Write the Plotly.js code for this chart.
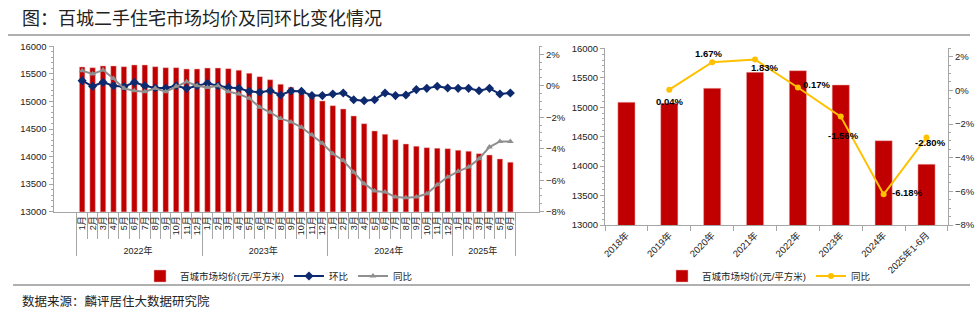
<!DOCTYPE html>
<html>
<head>
<meta charset="utf-8">
<script src="https://cdn.plot.ly/plotly-3.0.1.min.js"></script>
<style>html,body{margin:0;padding:0;background:#fff;}#chart{width:979px;height:321px;}</style>
</head>
<body>
<div id="chart"></div>
<script>
// ---------- data ----------
const yearGroups = ['2022年', '2023年', '2024年', '2025年'];
const monthsPerYear = [12, 12, 12, 6];
const monthNames = ['1月','2月','3月','4月','5月','6月','7月','8月','9月','10月','11月','12月'];

const priceMonthly = [15625,15612,15643,15643,15630,15661,15661,15630,15612,15612,15588,15588,
                      15605,15605,15595,15565,15510,15449,15394,15310,15256,15207,15117,15008,
                      14923,14863,14736,14596,14464,14403,14306,14228,14186,14161,14150,14143,
                      14113,14095,14052,14028,13956,13896];
const momMonthly = [0.32,-0.04,0.21,0.00,-0.06,0.21,0.00,-0.15,-0.15,0.00,-0.17,0.00,
                    0.15,0.00,-0.11,-0.17,-0.36,-0.42,-0.32,-0.59,-0.34,-0.36,-0.63,-0.63,
                    -0.53,-0.46,-0.89,-0.95,-0.89,-0.46,-0.63,-0.59,-0.25,-0.17,-0.04,-0.15,
                    -0.17,-0.17,-0.32,-0.17,-0.53,-0.46];
const yoyMonthly = [0.95,0.74,0.99,0.46,-0.17,-0.32,-0.38,-0.17,-0.38,-0.04,0.25,0.00,
                    -0.11,0.00,-0.38,-0.53,-0.80,-1.37,-1.69,-2.09,-2.30,-2.64,-3.12,-3.65,
                    -4.32,-4.75,-5.49,-6.22,-6.69,-6.75,-7.07,-7.11,-7.07,-6.86,-6.29,-5.80,
                    -5.44,-5.17,-4.64,-3.90,-3.54,-3.54];

const annualCats = ['2018年','2019年','2020年','2021年','2022年','2023年','2024年','2025年1-6月'];
const annualPrice = [15083,15066,15321,15593,15620,15377,14431,14031];
const annualYoY = [null,0.04,1.67,1.83,0.17,-1.56,-6.18,-2.80];

// label offsets (px) of the annual YoY data labels, relative to their points
const labelShiftX = [0, 0, -4, 9, 19, 3, 24, 4];
const labelShiftY = [0, -12, 9, -8, 3, -19, 2, -5];

// ---------- build multicategory x ----------
const outerX = [], innerX = [];
yearGroups.forEach((y, i) => {
  for (let m = 0; m < monthsPerYear[i]; m++) { outerX.push(y); innerX.push(monthNames[m]); }
});
const mcX = [outerX, innerX];

const RED = '#c00000', NAVY = '#0e2a6e', GREY = '#8f8f8f', GOLD = '#ffc000', AX = '#a6a6a6';
const FONT = 'Liberation Sans, Arial, Noto Sans CJK SC, sans-serif';

const traces = [
  {type:'bar', x: mcX, y: priceMonthly, name:'百城市场均价(元/平方米)', xaxis:'x', yaxis:'y',
   marker:{color:RED, line:{color:'#f0b0b0', width:0.5}}, width:0.52, legend:'legend'},
  {type:'scatter', mode:'lines+markers', x: mcX, y: momMonthly, name:'环比', xaxis:'x', yaxis:'y2',
   line:{color:NAVY, width:2}, marker:{symbol:'diamond', size:7, color:NAVY}, legend:'legend'},
  {type:'scatter', mode:'lines+markers', x: mcX, y: yoyMonthly, name:'同比', xaxis:'x', yaxis:'y2',
   line:{color:GREY, width:2}, marker:{symbol:'triangle-up', size:6, color:GREY}, legend:'legend'},
  {type:'bar', x: annualCats, y: annualPrice, name:'百城市场均价(元/平方米)', xaxis:'x2', yaxis:'y3',
   marker:{color:RED, line:{color:'#f0b0b0', width:0.5}}, width:0.4, legend:'legend2'},
  {type:'scatter', mode:'lines+markers', x: annualCats, y: annualYoY, name:'同比', xaxis:'x2', yaxis:'y4',
   line:{color:GOLD, width:2}, marker:{symbol:'circle', size:6, color:GOLD}, legend:'legend2', cliponaxis:false}
];

const W = 979, H = 321;
const px = v => v / W, py = v => 1 - v / H;

const yCommon = {showgrid:false, zeroline:false, showline:true, linecolor:AX, linewidth:1,
  ticks:'outside', ticklen:4, tickcolor:AX, tickfont:{size:9.5, color:'#222'}};

const dataLabels = [];
annualCats.forEach((c, i) => {
  if (annualYoY[i] === null) return;
  dataLabels.push({xref:'x2', yref:'y4', x:c, y:annualYoY[i], text: annualYoY[i].toFixed(2) + '%',
    showarrow:false, xanchor:'center', yanchor:'middle', xshift:labelShiftX[i], yshift:labelShiftY[i],
    font:{family:FONT, size:9.5, color:'#000', weight:'bold'}});
});

const layout = {
  width: W, height: H, margin:{l:0, r:0, t:0, b:0},
  paper_bgcolor:'#fff', plot_bgcolor:'rgba(0,0,0,0)',
  font:{family:FONT, size:9.5, color:'#222'},
  showlegend:true,
  xaxis:{type:'multicategory', domain:[px(53.5), px(539)], anchor:'y', tickmode:'linear', tick0:0, dtick:1,
    showline:true, linecolor:AX, ticks:'outside', tickson:'boundaries', ticklen:26, tickcolor:AX,
    tickangle:-90, tickfont:{size:9, color:'#222'}, showdividers:true, dividercolor:AX, dividerwidth:1,
    showgrid:false, zeroline:false},
  yaxis: Object.assign({}, yCommon, {domain:[py(211.7), py(46.3)], anchor:'x', range:[13000,16000], dtick:500,
    tickformat:'d', minor:{ticks:'outside', ticklen:2, dtick:100, tickcolor:AX}}),
  yaxis2: Object.assign({}, yCommon, {overlaying:'y', side:'right', anchor:'x', range:[-8,2.5], tick0:0, dtick:2,
    ticksuffix:'%', minor:{ticks:'outside', ticklen:2, dtick:0.5, tickcolor:AX}}),
  xaxis2:{domain:[px(605), px(948)], anchor:'y3', showline:true, linecolor:AX, ticks:'outside',
    tickson:'boundaries', ticklen:5, tickcolor:AX, tickangle:-45, tickfont:{size:9.5, color:'#222'},
    showgrid:false, zeroline:false},
  yaxis3: Object.assign({}, yCommon, {domain:[py(225), py(48.3)], anchor:'x2', range:[13000,16000], dtick:500,
    tickformat:'d', minor:{ticks:'outside', ticklen:2, dtick:100, tickcolor:AX}}),
  yaxis4: Object.assign({}, yCommon, {overlaying:'y3', side:'right', anchor:'x2', range:[-8,2.5], tick0:0, dtick:2,
    ticksuffix:'%', minor:{ticks:'outside', ticklen:2, dtick:0.5, tickcolor:AX}}),
  legend:{orientation:'h', x:px(140), y:py(276), xanchor:'left', yanchor:'middle',
    font:{size:9.5, color:'#222'}, bgcolor:'rgba(0,0,0,0)', itemwidth:30},
  legend2:{orientation:'h', x:px(662), y:py(276), xanchor:'left', yanchor:'middle',
    font:{size:9.5, color:'#222'}, bgcolor:'rgba(0,0,0,0)', itemwidth:30},
  shapes:[
    {type:'line', xref:'paper', yref:'paper', x0:px(8), x1:px(970), y0:py(35), y1:py(35), line:{color:'#b0b0b0', width:2}},
    {type:'line', xref:'paper', yref:'paper', x0:px(13), x1:px(970), y0:py(285), y1:py(285), line:{color:'#b0b0b0', width:2}}
  ],
  annotations:[
    {xref:'paper', yref:'paper', x:px(20), y:py(17), xanchor:'left', yanchor:'middle', showarrow:false,
     text:'图：百城二手住宅市场均价及同环比变化情况', font:{family:'Noto Sans CJK SC', size:18, color:'#222'}},
    {xref:'paper', yref:'paper', x:px(20), y:py(300), xanchor:'left', yanchor:'middle', showarrow:false,
     text:'数据来源：麟评居住大数据研究院', font:{family:'Noto Sans CJK SC', size:12.5, color:'#222'}}
  ].concat(dataLabels)
};

Plotly.newPlot('chart', traces, layout, {staticPlot:true, displayModeBar:false});
</script>
</body>
</html>
